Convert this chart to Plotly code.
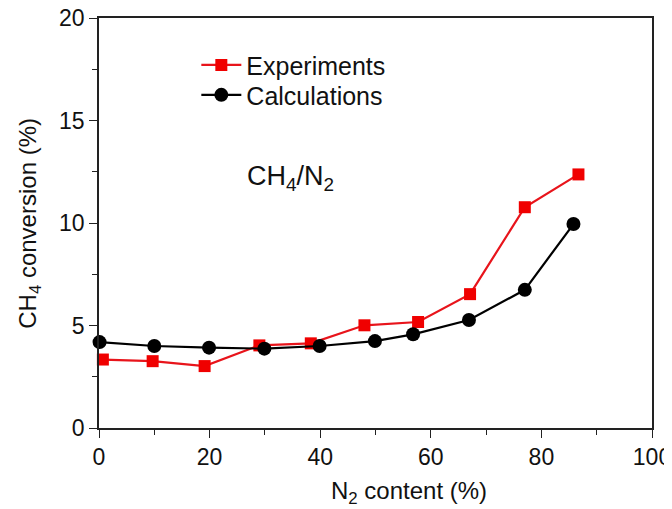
import plotly.graph_objects as go

exp_x = [0.7, 9.7, 19.1, 29.0, 38.3, 48.0, 57.7, 67.1, 77.0, 86.7]
exp_y = [3.34, 3.26, 3.02, 4.03, 4.13, 5.01, 5.17, 6.53, 10.77, 12.37]
calc_x = [0.1, 10.0, 19.9, 29.9, 39.9, 49.9, 56.8, 66.9, 77.0, 85.8]
calc_y = [4.19, 4.00, 3.92, 3.87, 4.00, 4.24, 4.57, 5.27, 6.74, 9.95]
x_ticks = [0, 20, 40, 60, 80, 100]
y_ticks = [0, 5, 10, 15, 20]

FONT = "Liberation Sans, Arial, sans-serif"
TXT = "#111111"

fig = go.Figure()
fig.add_trace(go.Scatter(
    x=exp_x, y=exp_y, mode="lines+markers", name="Experiments",
    line=dict(color="#e8141b", width=2.2),
    marker=dict(symbol="square", size=12, color="#f00000"),
    cliponaxis=False, legend="legend",
))
fig.add_trace(go.Scatter(
    x=calc_x, y=calc_y, mode="lines+markers", name="Calculations",
    line=dict(color="#000000", width=2.2),
    marker=dict(symbol="circle", size=14, color="#000000"),
    cliponaxis=False, legend="legend2",
))

axis_common = dict(
    showline=True, linecolor="#222222", linewidth=1.5, mirror=True,
    ticks="outside", ticklen=8, tickwidth=1.3, tickcolor="#222222",
    showgrid=False, zeroline=False, automargin=False,
    ticklabeloverflow="allow",
    tickfont=dict(family=FONT, size=23, color=TXT),
)

fig.update_xaxes(
    range=[0, 100], tickvals=x_ticks, ticktext=[str(v) for v in x_ticks],
    minor=dict(dtick=10, ticks="outside", ticklen=5, tickwidth=1.2, tickcolor="#222222"),
    **axis_common,
)
fig.update_yaxes(
    range=[0, 20], tickvals=y_ticks, ticktext=[str(v) for v in y_ticks],
    minor=dict(dtick=2.5, ticks="outside", ticklen=5, tickwidth=1.2, tickcolor="#222222"),
    **axis_common,
)

# axis titles
fig.add_annotation(
    x=0.56, y=-0.158, xref="paper", yref="paper",
    text="N<sub>2</sub> content (%)", showarrow=False,
    font=dict(family=FONT, size=24, color=TXT),
    xanchor="center", yanchor="middle",
)
fig.add_annotation(
    x=-0.127, y=0.5, xref="paper", yref="paper",
    text="CH<sub>4</sub> conversion (%)", showarrow=False, textangle=-90,
    font=dict(family=FONT, size=24, color=TXT),
    xanchor="center", yanchor="middle",
)

fig.add_annotation(
    x=0.347, y=0.61, xref="paper", yref="paper",
    text="CH<sub>4</sub>/N<sub>2</sub>", showarrow=False,
    font=dict(family=FONT, size=27, color=TXT),
    xanchor="center", yanchor="middle",
)

leg_common = dict(
    xanchor="left", yanchor="middle",
    font=dict(family=FONT, size=25, color=TXT),
    bgcolor="rgba(0,0,0,0)", itemwidth=40,
)

# page body adds an 8 px offset, so the figure is sized to fit inside the window
fig.update_layout(
    width=664, height=501,
    margin=dict(l=91, r=20, t=10, b=81, autoexpand=False),
    paper_bgcolor="white", plot_bgcolor="white",
    showlegend=True,
    legend=dict(x=0.176, y=0.885, **leg_common),
    legend2=dict(x=0.176, y=0.812, **leg_common),
)

fig.write_html("out.html")
